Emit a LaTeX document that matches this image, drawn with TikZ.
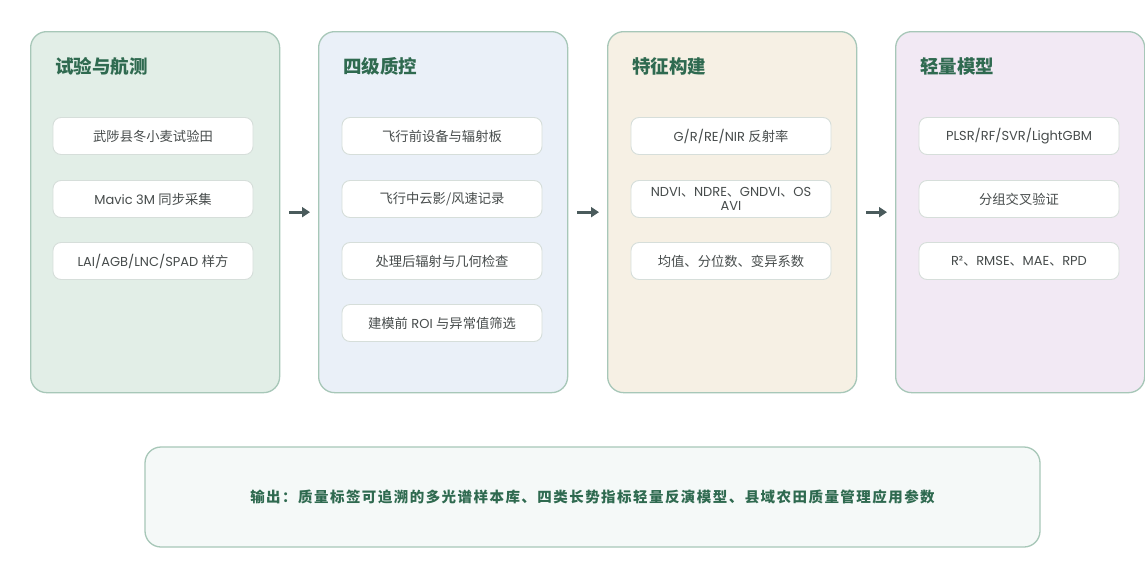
\documentclass[tikz,border=0pt]{standalone}
\usepackage{fontspec}
\setmainfont{Poppins}
\newfontfamily\cjk{Noto Sans CJK SC}
\newfontfamily\cjkls[LetterSpace=10]{Noto Sans CJK SC}
\usetikzlibrary{arrows.meta}
\definecolor{pborder}{HTML}{A7C7B8}
\definecolor{fillA}{HTML}{E2EEE7}
\definecolor{fillB}{HTML}{EAF0F8}
\definecolor{fillC}{HTML}{F6F0E4}
\definecolor{fillD}{HTML}{F2E9F4}
\definecolor{titlecol}{HTML}{2F6A50}
\definecolor{itemborder}{HTML}{D6DEDA}
\definecolor{itemtext}{HTML}{474C4C}
\definecolor{arrcol}{HTML}{4A5B5C}
\definecolor{outfill}{HTML}{F5F9F8}
\tikzset{
  panel/.style={draw=pborder, line width=1.3pt, rounded corners=16pt,
    minimum width=249pt, minimum height=361pt, anchor=north west, inner sep=0pt},
  ptitle/.style={anchor=west, text=titlecol, font=\fontsize{18.5}{22}\selectfont\cjk\bfseries, inner sep=0pt},
  item/.style={draw=itemborder, line width=0.9pt, fill=white, rounded corners=8pt,
    minimum width=200pt, minimum height=37pt, inner sep=0pt, text=itemtext,
    align=center, font=\fontsize{13}{14.5}\selectfont},
  arr/.style={draw=arrcol, line width=3pt, -{Triangle[length=8pt,width=10pt]}},
  outbox/.style={draw=pborder, line width=1.3pt, rounded corners=16pt, fill=outfill,
    minimum width=895pt, minimum height=100pt, inner sep=0pt, text=titlecol,
    font=\fontsize{14.5}{17}\selectfont\cjkls\bfseries}
}
\newcommand{\zh}[1]{{\cjk\fontsize{13.3}{16}\selectfont #1}}
\begin{document}
\begin{tikzpicture}[x=1pt,y=-1pt]
\useasboundingbox[fill=white] (0,0) rectangle (1145,562);
% panels
\node[panel, fill=fillA] (p1) at (30,31) {};
\node[panel, fill=fillB] (p2) at (318,31) {};
\node[panel, fill=fillC] (p3) at (607,31) {};
\node[panel, fill=fillD] (p4) at (895,31) {};
% titles
\node[ptitle] (t1) at (55,66) {试验与航测};
\node[ptitle] (t2) at (343,66) {四级质控};
\node[ptitle] (t3) at (632,66) {特征构建};
\node[ptitle] (t4) at (920,66) {轻量模型};
% panel 1 items
\node[item] (a1) at (153,136) {\zh{武陟县冬小麦试验田}};
\node[item] (a2) at (153,199) {Mavic 3M \zh{同步采集}};
\node[item] (a3) at (153,261) {LAI/AGB/LNC/SPAD \zh{样方}};
% panel 2 items
\node[item] (b1) at (442,136) {\zh{飞行前设备与辐射板}};
\node[item] (b2) at (442,199) {\zh{飞行中云影/风速记录}};
\node[item] (b3) at (442,261) {\zh{处理后辐射与几何检查}};
\node[item] (b4) at (442,323) {\zh{建模前} ROI \zh{与异常值筛选}};
% panel 3 items
\node[item] (c1) at (731,136) {G/R/RE/NIR \zh{反射率}};
\node[item] (c2) at (731,199) {NDVI{\cjk、}NDRE{\cjk、}GNDVI{\cjk、}OS\\AVI};
\node[item] (c3) at (731,261) {\zh{均值、分位数、变异系数}};
% panel 4 items
\node[item] (d1) at (1019,136) {PLSR/RF/SVR/LightGBM};
\node[item] (d2) at (1019,199) {\zh{分组交叉验证}};
\node[item] (d3) at (1019,261) {R²{\cjk、}RMSE{\cjk、}MAE{\cjk、}RPD};
% arrows
\draw[arr] ([xshift=9pt]p1.east) -- ([xshift=-8pt]p2.west);
\draw[arr] ([xshift=9pt]p2.east) -- ([xshift=-8pt]p3.west);
\draw[arr] ([xshift=9pt]p3.east) -- ([xshift=-8pt]p4.west);
% output
\node[outbox] (out) at (592.5,497) {输出：质量标签可追溯的多光谱样本库、四类长势指标轻量反演模型、县域农田质量管理应用参数};
\end{tikzpicture}
\end{document}
